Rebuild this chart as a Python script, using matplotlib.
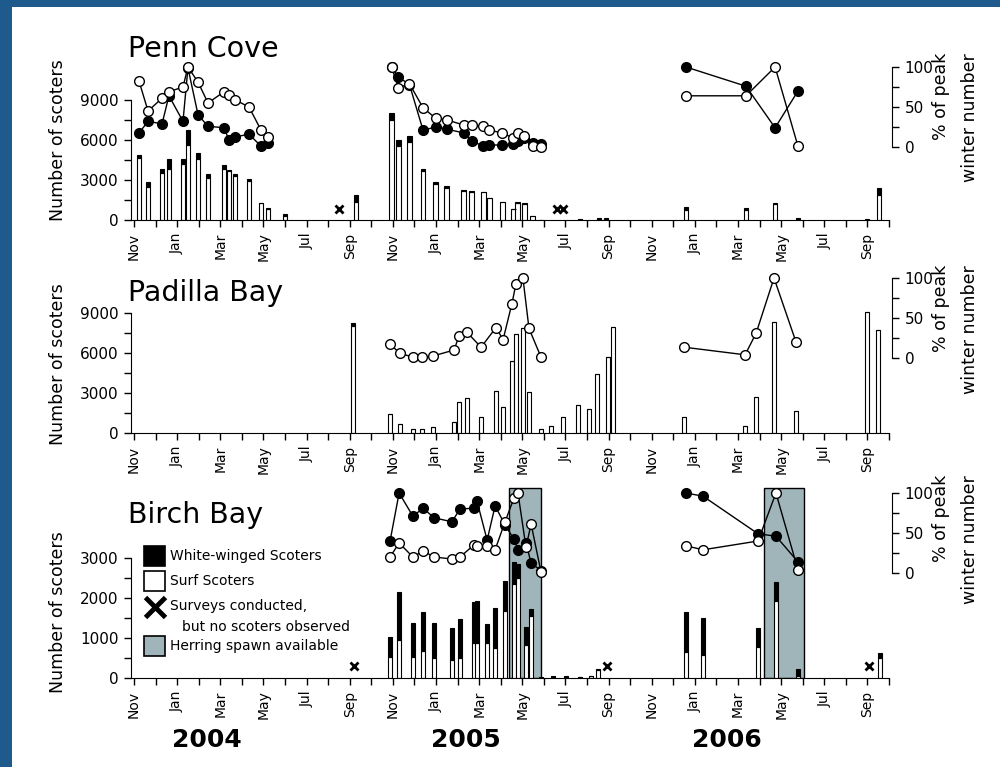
import matplotlib
matplotlib.rcdefaults()
import matplotlib.pyplot as plt
from matplotlib.patches import Rectangle
from matplotlib.lines import Line2D

# dates are in months counted from 1 Nov 2003
month_names = ['Nov', 'Dec', 'Jan', 'Feb', 'Mar', 'Apr', 'May', 'Jun', 'Jul', 'Aug', 'Sep', 'Oct']
years = ['2004', '2005', '2006']

# ---- Penn Cove ----
pc_dates = [0.23, 0.65, 1.30, 1.62, 2.27, 2.50, 2.97, 3.43, 4.17, 4.40, 4.68, 5.33, 5.89, 6.21, 7.00, 10.29,
            11.94, 12.26, 12.77, 13.40, 13.98, 14.49, 15.28, 15.65, 16.20, 16.48, 17.08, 17.59, 17.78, 18.10,
            18.48, 18.87, 20.68, 21.56, 21.88,
            25.59, 28.37, 29.72, 30.78, 33.98, 34.54]
pc_surf = [4675, 2490, 3495, 3855, 4215, 5625, 4575, 3160, 3855, 3650, 3310, 2895, 1265, 845, 300, 1375,
           7475, 5520, 5870, 3710, 2710, 2425, 2155, 2135, 2095, 1635, 1335, 805, 1310, 1215,
           270, 0, 10, 30, 30,
           770, 770, 1200, 15, 20, 1900]
pc_ww = [200, 360, 330, 720, 360, 1125, 450, 290, 270, 100, 140, 180, 10, 55, 150, 500,
         550, 480, 430, 115, 140, 125, 95, 40, 5, 15, 15, 20, 40, 60,
         30, 20, 40, 120, 120,
         200, 150, 50, 140, 30, 500]
pc_pct_dates = [[0.23, 0.65, 1.30, 1.62, 2.27, 2.50, 2.97, 3.43, 4.17, 4.40, 4.68, 5.33, 5.89, 6.21],
                [11.94, 12.26, 12.77, 13.40, 13.98, 14.49, 15.28, 15.65, 16.20, 16.48, 17.08, 17.59, 17.78,
                 18.10, 18.48, 18.87],
                [25.59, 28.37, 29.72, 30.78]]
pc_pct_surf = [[82.5, 45, 61, 69, 75, 100, 81, 55, 69, 65, 59, 50, 21, 13],
               [100, 74, 79, 49, 36, 34, 27.5, 27.5, 26, 21, 17.5, 11, 17.5, 14, 1, 0],
               [64, 64, 100, 1]]
pc_pct_ww = [[17.5, 32, 29, 64, 32, 99, 40, 26, 24, 9, 12.5, 16, 1, 5],
             [100, 87.5, 78, 21, 25, 22.5, 17.5, 7.5, 1, 2.5, 2.5, 4, 7.5, 11, 5, 4],
             [100, 76, 24, 70]]
pc_none = [9.50, 19.61, 19.89]

# ---- Padilla Bay ----
pb_dates = [10.15,
            11.87, 12.33, 12.93, 13.35, 13.86, 14.84, 15.07, 15.44, 16.09, 16.78, 17.11, 17.52, 17.71, 18.03,
            18.31, 18.87, 19.33, 19.89, 20.58, 21.09, 21.47, 21.98, 22.21,
            25.50, 28.33, 28.84, 29.67, 30.69, 33.98, 34.48]
pb_surf = [8000,
           1425, 675, 300, 300, 450, 825, 2325, 2625, 1200, 3150, 1950, 5400, 7425, 7875,
           3075, 300, 525, 1200, 2100, 1800, 4425, 5700, 7950,
           1200, 525, 2700, 8325, 1650, 9075, 7725]
pb_ww = [250,
         0, 0, 0, 0, 0, 0, 0, 0, 0, 0, 0, 0, 0, 0,
         0, 0, 0, 0, 0, 0, 0, 0, 0,
         0, 0, 0, 0, 0, 0, 0]
pb_pct_dates = [[11.87, 12.33, 12.93, 13.35, 13.86, 14.84, 15.07, 15.44, 16.09, 16.78, 17.11, 17.52, 17.71,
                 18.03, 18.31, 18.87],
                [25.50, 28.33, 28.84, 29.67, 30.69]]
pb_pct_surf = [[17, 6, 1, 1, 2.5, 10, 28, 32, 13.5, 38, 23, 68, 93, 100, 37, 1],
               [13.5, 4, 31, 100, 20]]

# ---- Birch Bay ----
bb_dates = [11.87, 12.29, 12.93, 13.40, 13.91, 14.74, 15.11, 15.76, 15.90, 16.37, 16.74, 17.20, 17.62, 17.80,
            18.17, 18.41, 18.87,
            19.43, 20.03, 20.68, 21.19, 21.51,
            25.59, 26.38, 28.93, 29.76, 30.78, 34.59]
bb_surf = [525, 950, 525, 675, 500, 450, 500, 875, 875, 875, 750, 1675, 2350, 2500, 825, 1550, 10,
           5, 5, 15, 50, 200,
           650, 575, 775, 1925, 40, 500]
bb_ww = [500, 1200, 850, 975, 875, 800, 975, 1025, 1050, 475, 1000, 750, 550, 350, 450, 175, 15,
         35, 35, 5, 10, 30,
         1000, 925, 475, 475, 185, 125]
bb_pct_dates = [[11.87, 12.29, 12.93, 13.40, 13.91, 14.74, 15.11, 15.76, 15.90, 16.37, 16.74, 17.20, 17.62,
                 17.80, 18.17, 18.41, 18.87],
                [25.59, 26.38, 28.93, 29.76, 30.78]]
bb_pct_surf = [[20, 37.5, 20, 27.5, 20, 17.5, 20, 35, 34, 34, 29, 64, 94, 100, 32.5, 61, 1],
               [34, 29, 40, 100, 4]]
bb_pct_ww = [[40, 100, 71, 81, 69, 64, 80, 81, 90, 41, 84, 60, 42, 29, 37.5, 12.5, 3],
             [100, 96, 49, 46, 14]]
bb_none = [10.20, 21.93, 34.08]
herring = [(17.39, 18.87), (29.21, 31.06)]

W, H = 1000, 767
BLUE = '#1f5a8c'
HERRING = '#a0b5ba'

fig = plt.figure(figsize=(W / 100, H / 100), dpi=100, facecolor=BLUE)
fig.add_artist(Rectangle((12 / W, 0), 1, 1 - 7 / H, transform=fig.transFigure,
                         facecolor='white', edgecolor='none', zorder=-10))


def px(x, y):
    return x / W, 1 - y / H


def panel(top, bottom, ymax, yticks, yminor, pct_lo, pct_hi, title, title_y, ylab_y, rlab_top):
    ax = fig.add_axes([131 / W, 1 - bottom / H, 761 / W, (bottom - top) / H])
    ax.patch.set_alpha(0)
    ax.set_xlim(-0.14, 35.14)
    ax.set_ylim(0, ymax)
    for s in ['top', 'right']:
        ax.spines[s].set_visible(False)
    ax.spines['left'].set_bounds(0, yticks[-1])
    ax.spines['bottom'].set_bounds(-0.14, 35)
    ax.set_xticks(range(36))
    ax.set_xticklabels([month_names[i % 12] if i % 2 == 0 else '' for i in range(36)],
                       rotation=90, fontsize=10)
    ax.set_yticks(yticks)
    ax.set_yticklabels([str(v) for v in yticks], fontsize=11)
    ax.set_yticks(yminor, minor=True)
    ax.tick_params(axis='both', which='both', direction='out', length=5, width=1, pad=4)

    ax2 = ax.twinx()
    ax2.set_ylim(pct_lo, pct_hi)
    for s in ['top', 'left', 'bottom']:
        ax2.spines[s].set_visible(False)
    ax2.spines['right'].set_bounds(0, 100)
    ax2.set_yticks([0, 50, 100])
    ax2.set_yticklabels(['0', '50', '100'], fontsize=11)
    ax2.set_yticks([25, 75], minor=True)
    ax2.tick_params(axis='y', which='both', direction='out', length=5, width=1, pad=4)

    fig.text(*px(128, title_y), title, fontsize=20.5, va='baseline', ha='left')
    fig.text(*px(58, ylab_y), 'Number of scoters', rotation=90, fontsize=12.5, ha='center', va='center')
    fig.text(*px(941, rlab_top), '% of peak', rotation=90, fontsize=12.5, ha='center', va='top')
    fig.text(*px(970, rlab_top), 'winter number', rotation=90, fontsize=12.5, ha='center', va='top')
    return ax, ax2


def draw_counts(ax, dates, surf, ww):
    ax.bar(dates, surf, width=0.2, color='white', edgecolor='black', linewidth=0.8, zorder=2)
    ax.bar(dates, ww, bottom=surf, width=0.2, color='black', edgecolor='black', linewidth=0.8, zorder=2)


def draw_pct(ax2, seasons, values, face):
    # one connected series per winter season
    for d, v in zip(seasons, values):
        ax2.plot(d, v, '-', color='k', linewidth=1.0, zorder=3)
        ax2.plot(d, v, 'o', markersize=7, markerfacecolor=face,
                 markeredgecolor='k', markeredgewidth=1, zorder=4)


# Penn Cove
ax, ax2 = panel(50, 220, 12750, [0, 3000, 6000, 9000], [1500, 4500, 7500], -91.25, 121.25,
                'Penn Cove', 57, 140, 53)
draw_counts(ax, pc_dates, pc_surf, pc_ww)
ax.plot(pc_none, [825] * len(pc_none), 'x', color='black', ms=6, mew=2, zorder=3)
draw_pct(ax2, pc_pct_dates, pc_pct_ww, 'black')
draw_pct(ax2, pc_pct_dates, pc_pct_surf, 'white')

# Padilla Bay
ax, ax2 = panel(265, 433, 12600, [0, 3000, 6000, 9000], [1500, 4500, 7500], -93.75, 116.25,
                'Padilla Bay', 301, 364, 265)
draw_counts(ax, pb_dates, pb_surf, pb_ww)
draw_pct(ax2, pb_pct_dates, pb_pct_surf, 'white')

# Birch Bay
ax, ax2 = panel(480, 678, 4950, [0, 1000, 2000, 3000], [500, 1500, 2500], -131.25, 116.25,
                'Birch Bay', 523, 612, 475)
for start, end in herring:
    ax.axvspan(start, end, ymin=0, ymax=0.96, facecolor=HERRING, edgecolor='black', lw=1, zorder=1)
draw_counts(ax, bb_dates, bb_surf, bb_ww)
ax.plot(bb_none, [300] * len(bb_none), 'x', color='black', ms=6, mew=2, zorder=3)
draw_pct(ax2, bb_pct_dates, bb_pct_ww, 'black')
draw_pct(ax2, bb_pct_dates, bb_pct_surf, 'white')

# legend
for y0, face in [(546, 'black'), (571, 'white'), (636, HERRING)]:
    fig.add_artist(Rectangle(px(144, y0 + 20), 21 / W, 20 / H, transform=fig.transFigure,
                             facecolor=face, edgecolor='black', lw=1.2, zorder=5))
fig.add_artist(Line2D([155 / W], [1 - 607 / H], marker='x', ms=14, mew=3.5, color='black',
                      transform=fig.transFigure, zorder=5))
leg_txt = [(170, 556, 'White-winged Scoters'), (170, 581, 'Surf Scoters'),
           (170, 606, 'Surveys conducted,'), (182, 627, 'but no scoters observed'),
           (170, 646, 'Herring spawn available')]
for x, y, s in leg_txt:
    fig.text(*px(x, y), s, fontsize=10, ha='left', va='center', zorder=5)

# year labels under each season
for x, yr in zip([207, 466, 727], years):
    fig.text(*px(x, 740), yr, fontsize=18, fontweight='bold', ha='center', va='center')

fig.savefig('out.png', dpi=100)
